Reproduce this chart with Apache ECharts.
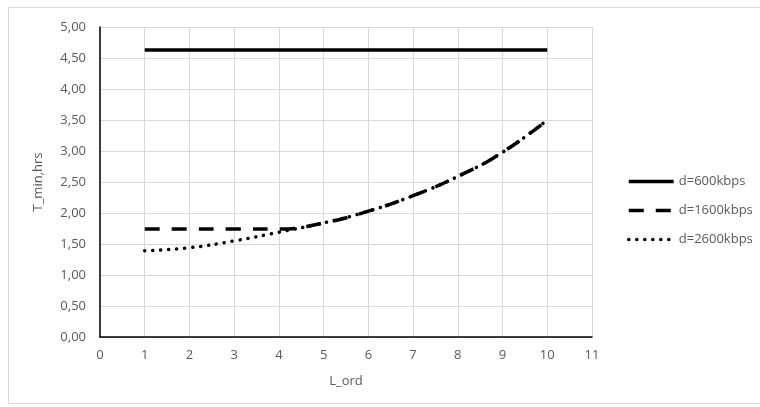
<!DOCTYPE html>
<html><head><meta charset="utf-8">
<script src="https://cdn.jsdelivr.net/npm/echarts@6/dist/echarts.min.js"></script>
<style>html,body{margin:0;padding:0;background:#fff}#c{width:760px;height:407px}</style>
</head><body><div id="c"></div>
<script>
var xs = [1,2,3,4,5,6,7,8,9,10];
var d600 = [4.63,4.63,4.63,4.63,4.63,4.63,4.63,4.63,4.63,4.63];
var d1600 = [1.74,1.74,1.74,1.74,1.84,2.03,2.28,2.59,2.98,3.50];
var d2600 = [1.39,1.44,1.55,1.69,1.84,2.03,2.28,2.59,2.98,3.50];
var names = ['d=600kbps','d=1600kbps','d=2600kbps'];
function pts(v){return xs.map(function(x,i){return [x,v[i]];});}
var font = 'Open Sans';
var gray = '#595959';
var chart = echarts.init(document.getElementById('c'));
chart.setOption({
  animation:false,
  textStyle:{fontFamily:font},
  graphic:[{type:'rect',shape:{x:8.5,y:7.5,width:800,height:396},style:{fill:'none',stroke:'#d9d9d9',lineWidth:1},silent:true}],
  grid:{left:100,right:168,top:27,bottom:70},
  legend:{orient:'vertical',left:622,top:170,itemWidth:45,itemHeight:14,itemGap:16,
    itemStyle:{opacity:0},lineStyle:{width:3.5},
    textStyle:{color:gray,fontSize:13,fontFamily:font},data:names},
  xAxis:{type:'value',min:0,max:11,interval:1,name:'L_ord',nameLocation:'middle',nameGap:38,
    nameTextStyle:{color:gray,fontSize:13},
    axisLine:{lineStyle:{color:'#000',width:1.5}},axisTick:{show:false},
    axisLabel:{color:gray,fontSize:13,margin:12},
    splitLine:{show:true,lineStyle:{color:'#d9d9d9'}}},
  yAxis:{type:'value',min:0,max:5,interval:0.5,name:'T_min,hrs',nameLocation:'middle',nameGap:55,
    nameTextStyle:{color:gray,fontSize:13},
    axisLine:{show:true,lineStyle:{color:'#000',width:1.5}},axisTick:{show:false},
    axisLabel:{color:gray,fontSize:13,margin:14,formatter:function(v){return v.toFixed(2).replace('.',',');}},
    splitLine:{show:true,lineStyle:{color:'#d9d9d9'}}},
  series:[
    {name:names[0],type:'line',data:pts(d600),symbol:'none',smooth:true,
      lineStyle:{color:'#000',width:3.5,type:'solid'},itemStyle:{color:'#000'}},
    {name:names[1],type:'line',data:pts(d1600),symbol:'none',smooth:true,
      lineStyle:{color:'#000',width:3.5,type:[15,12]},itemStyle:{color:'#000'}},
    {name:names[2],type:'line',data:pts(d2600),symbol:'none',smooth:true,
      lineStyle:{color:'#000',width:3.5,type:[0.1,7.9],cap:'round'},itemStyle:{color:'#000'}}
  ]
});
</script></body></html>
